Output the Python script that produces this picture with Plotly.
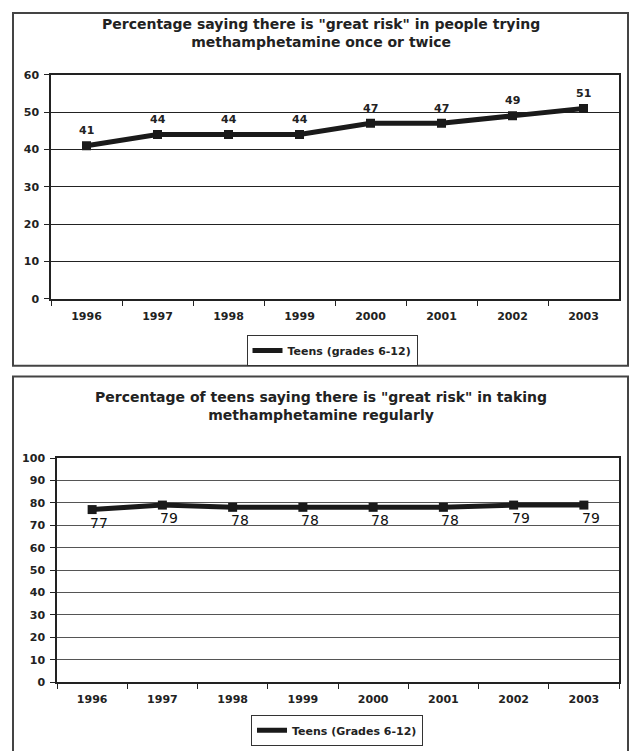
import plotly.graph_objects as go

# Survey years and the share of teens who see "great risk"
years = ["1996", "1997", "1998", "1999", "2000", "2001", "2002", "2003"]
try_once_twice = [41, 44, 44, 44, 47, 47, 49, 51]
take_regularly = [77, 79, 78, 78, 78, 78, 79, 79]

title_top = 'Percentage saying there is "great risk" in people trying<br>methamphetamine once or twice'
title_bottom = 'Percentage of teens saying there is "great risk" in taking<br>methamphetamine regularly'
legend_top = "Teens (grades 6-12)"
legend_bottom = "Teens (Grades 6-12)"

W, H = 630, 751
FAMILY = "DejaVu Sans"
INK = "#1a1a1a"


def px_x(v):
    return v / W


def px_y(v):
    return 1 - v / H


fig = go.Figure()

# Upper chart: trying once or twice
fig.add_trace(go.Scatter(
    x=years, y=try_once_twice, mode="lines+markers",
    line=dict(color=INK, width=5), marker=dict(symbol="square", size=9, color=INK),
    xaxis="x", yaxis="y", showlegend=False, hoverinfo="x+y",
))
fig.add_trace(go.Scatter(
    x=[None], y=[None], mode="lines", name=legend_top,
    line=dict(color=INK, width=5), xaxis="x", yaxis="y", legend="legend",
))

# Lower chart: taking regularly
fig.add_trace(go.Scatter(
    x=years, y=take_regularly, mode="lines+markers",
    line=dict(color=INK, width=5), marker=dict(symbol="square", size=9, color=INK),
    xaxis="x2", yaxis="y2", showlegend=False, hoverinfo="x+y",
))
fig.add_trace(go.Scatter(
    x=[None], y=[None], mode="lines", name=legend_bottom,
    line=dict(color=INK, width=5), xaxis="x2", yaxis="y2", legend="legend2",
))

annotations = []
# Value labels (category axes are addressed by index position)
for i, v in enumerate(try_once_twice):
    annotations.append(dict(
        x=i, y=v, xref="x", yref="y", text=str(v), showarrow=False,
        yshift=15, font=dict(family=FAMILY, size=11, color="#222", weight="bold"),
        xanchor="center", yanchor="middle",
    ))
for i, v in enumerate(take_regularly):
    annotations.append(dict(
        x=i, y=v, xref="x2", yref="y2", text=str(v), showarrow=False,
        yshift=-13, xshift=7, font=dict(family=FAMILY, size=14, color="#111"),
        xanchor="center", yanchor="middle",
    ))

# Chart titles
annotations.append(dict(
    x=px_x(321), y=px_y(27), xref="paper", yref="paper", text=title_top,
    showarrow=False, font=dict(family=FAMILY, size=14, color="#222", weight="bold"),
    xanchor="center", yanchor="middle", align="center",
))
annotations.append(dict(
    x=px_x(321), y=px_y(407), xref="paper", yref="paper", text=title_bottom,
    showarrow=False, font=dict(family=FAMILY, size=14, color="#222", weight="bold"),
    xanchor="center", yanchor="middle", align="center",
))

# Outer frames around each chart
shapes = [
    dict(type="rect", xref="paper", yref="paper",
         x0=px_x(13), x1=px_x(628), y0=px_y(366), y1=px_y(7),
         line=dict(color="#444", width=2), fillcolor="rgba(0,0,0,0)", layer="below"),
    dict(type="rect", xref="paper", yref="paper",
         x0=px_x(13), x1=px_x(628), y0=px_y(770), y1=px_y(377),
         line=dict(color="#444", width=2), fillcolor="rgba(0,0,0,0)", layer="below"),
]

tickfont = dict(family=FAMILY, size=11, color="#222", weight="bold")

xaxis_common = dict(
    type="category", range=[-0.5, 7.5], showgrid=False, zeroline=False,
    showline=True, linecolor="#222", linewidth=1.5, mirror=True,
    ticks="outside", tickson="boundaries", ticklen=5, tickcolor="#222",
    tickfont=tickfont, ticklabelstandoff=6, fixedrange=True,
)
yaxis_common = dict(
    showgrid=True, gridwidth=1, zeroline=False, dtick=10,
    showline=True, linecolor="#222", linewidth=1.5, mirror=True,
    ticks="outside", ticklen=5, tickcolor="#222", tickfont=tickfont,
    ticklabelstandoff=3, fixedrange=True,
)

legend_font = dict(family=FAMILY, size=11, color="#222", weight="bold")

fig.update_layout(
    width=W, height=H, margin=dict(l=0, r=0, t=0, b=0),
    paper_bgcolor="white", plot_bgcolor="white",
    font=dict(family=FAMILY, color="#222"),
    xaxis=dict(xaxis_common, domain=[px_x(51), px_x(619)], anchor="y"),
    yaxis=dict(yaxis_common, domain=[px_y(298), px_y(70)], range=[0, 60],
               gridcolor="#222", anchor="x"),
    xaxis2=dict(xaxis_common, domain=[px_x(57), px_x(619)], anchor="y2"),
    yaxis2=dict(yaxis_common, domain=[px_y(688), px_y(460)], range=[0, 100],
                gridcolor="#555", anchor="x2"),
    legend=dict(
        x=px_x(332), y=px_y(350.5), xanchor="center", yanchor="middle",
        bordercolor="#333", borderwidth=1, bgcolor="white",
        font=legend_font, itemwidth=30, tracegroupgap=0,
    ),
    legend2=dict(
        x=px_x(337), y=px_y(737), xanchor="center", yanchor="middle",
        bordercolor="#333", borderwidth=1, bgcolor="white",
        font=legend_font, itemwidth=30, tracegroupgap=0,
    ),
    annotations=annotations,
    shapes=shapes,
)

fig.write_html("out.html")
